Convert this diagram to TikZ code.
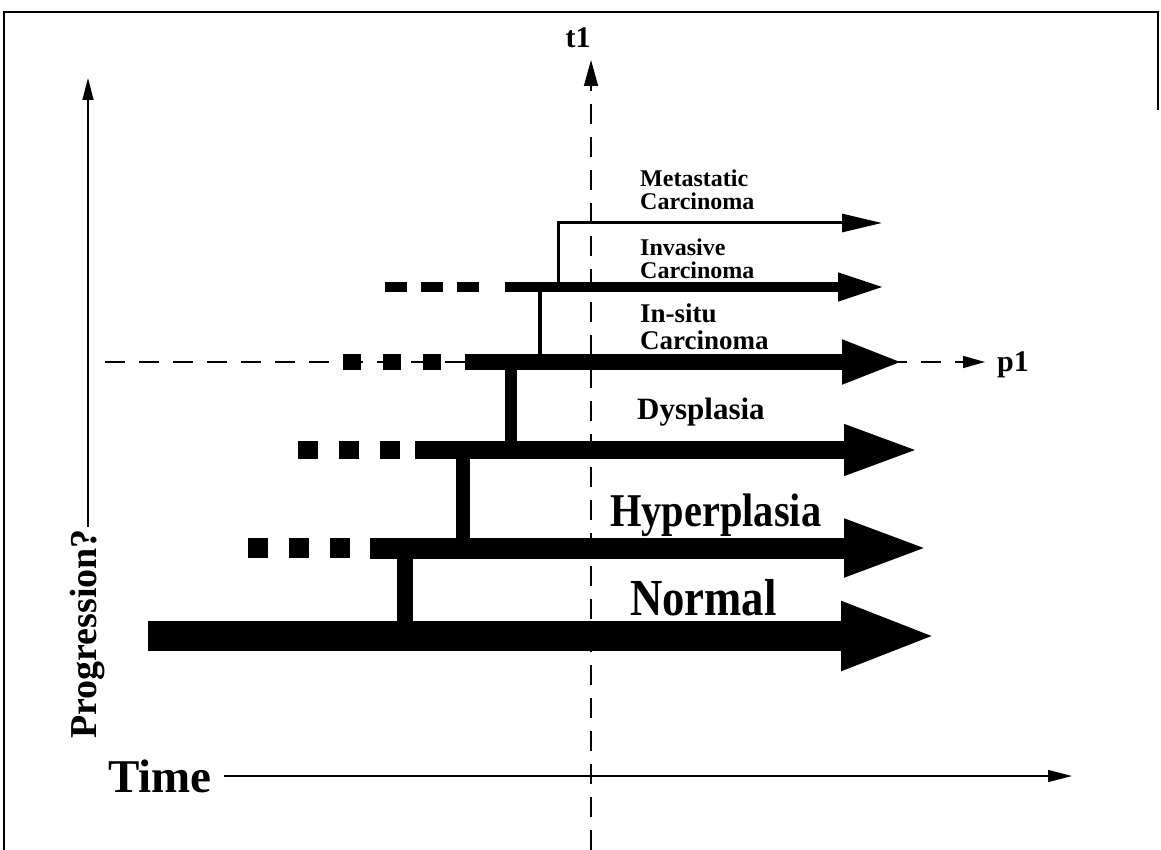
\documentclass[tikz,border=0pt]{standalone}
\usepackage{fontspec}
\setmainfont{Liberation Serif}
\usetikzlibrary{arrows.meta}
\tikzset{
  frameline/.style={line width=1.5pt},
  axisline/.style={line width=1.4pt},
  guideline/.style={line width=1.6pt, dash pattern=on 20pt off 13pt},
  bar/.style={line width=#1},
  lab/.style={font=\bfseries, inner sep=0pt},
  sq/.style={line width=#1, dash pattern=on 20pt off 21pt}
}
\newcommand{\fs}[2]{\fontsize{#1}{#2}\selectfont}
\newcommand{\cond}[1]{\scalebox{0.86}[1]{#1}}
\begin{document}
\begin{tikzpicture}[x=1pt,y=-1pt]
\useasboundingbox (0,0) rectangle (1161,850);
% frame
\coordinate (fbl) at (4,850);
\coordinate (ftl) at (4,12);
\coordinate (ftr) at (1158,12);
\coordinate (frr) at (1158,110);
\draw[frameline] (fbl) -- (ftl) -- (ftr) -- (frr);

% progression axis
\node[lab, rotate=90, font=\bfseries\fs{38}{38}] (prog) at (88,634) {Progression?};
\coordinate (progtip) at (88,78);
\draw[axisline, -{Triangle[length=22pt,width=11pt]}] (prog.east) ++(0,-2) coordinate (pstart) (pstart) -- (progtip);

% time axis
\node[lab, anchor=west, font=\bfseries\fs{47}{47}] (time) at (108,776) {Time};
\coordinate (timetip) at (1072,776);
\draw[axisline, -{Triangle[length=24pt,width=12pt]}] (time.east) ++(12,0) coordinate (tstart) (tstart) -- (timetip);

% t1 guide
\node[lab, font=\bfseries\fs{30}{30}] (t1) at (578,38) {t1};
\coordinate (t1bot) at (591,850);
\coordinate (t1tip) at (591,60);
\draw[guideline, -{Triangle[length=26pt,width=14pt]}] (t1bot) -- (t1tip);

% p1 guide
\node[lab, anchor=west, font=\bfseries\fs{30}{30}] (p1) at (997,365) {p1};
\coordinate (p1start) at (105,362);
\coordinate (p1tip) at (985,362);
\draw[guideline, dash pattern=on 20pt off 14pt, -{Triangle[length=22pt,width=12pt]}] (p1start) -- (p1tip);

% Normal
\coordinate (nS) at (148,636); \coordinate (nE) at (938,636);
\draw[bar=30pt, -{Triangle[length=97pt,width=62pt]}] (nS) -- (nE);
% Hyperplasia
\coordinate (hD) at (248,548); \coordinate (hS) at (370,548); \coordinate (hE) at (930,548);
\draw[sq=20pt] (hD) -- (352,548);
\draw[bar=21pt, -{Triangle[length=86pt,width=52pt]}] (hS) -- (hE);
% Dysplasia
\coordinate (dD) at (298,450); \coordinate (dS) at (415,450); \coordinate (dE) at (920,450);
\draw[sq=18pt] (dD) -- (400,450);
\draw[bar=18pt, -{Triangle[length=76pt,width=46pt]}] (dS) -- (dE);
% In-situ
\coordinate (iD) at (343,362); \coordinate (iS) at (465,362); \coordinate (iE) at (904,362);
\draw[sq=16pt, dash pattern=on 18pt off 22pt] (iD) -- (441,362);
\draw[bar=16pt, -{Triangle[length=62pt,width=40pt]}] (iS) -- (iE);
% Invasive
\coordinate (vD) at (385,287); \coordinate (vS) at (505,287); \coordinate (vE) at (885,287);
\draw[sq=10pt, dash pattern=on 22pt off 14pt] (vD) -- (480,287);
\draw[bar=10pt, -{Triangle[length=47pt,width=26pt]}] (vS) -- (vE);
% Metastatic
\coordinate (mS) at (558,223); \coordinate (mE) at (882,223);
\draw[bar=3pt, -{Triangle[length=40pt,width=18pt]}] (mS) -- (mE);

% vertical links
\draw[bar=16pt] (405,548) -- (405,636);
\draw[bar=14pt] (463,450) -- (463,548);
\draw[bar=12pt] (511,362) -- (511,450);
\draw[bar=3.5pt] (540,287) -- (540,362);
\draw[bar=3pt] (558,221.5) -- (558,287);

% labels
\node[lab, anchor=west] (lnorm) at (630,598) {\fs{52}{52}\cond{Normal}};
\node[lab, anchor=west] (lhyp) at (610,515) {\fs{47}{47}\cond{Hyperplasia}};
\node[lab, anchor=west, font=\bfseries\fs{31}{31}] (ldys) at (637,412) {Dysplasia};
\node[lab, anchor=west, align=left, font=\bfseries\fs{27}{27}] (lins) at (640,327) {In-situ\\Carcinoma};
\node[lab, anchor=west, align=left, font=\bfseries\fs{24}{23}] (linv) at (640,259) {Invasive\\Carcinoma};
\node[lab, anchor=west, align=left, font=\bfseries\fs{24}{23}] (lmet) at (640,190) {Metastatic\\Carcinoma};
\end{tikzpicture}
\end{document}
